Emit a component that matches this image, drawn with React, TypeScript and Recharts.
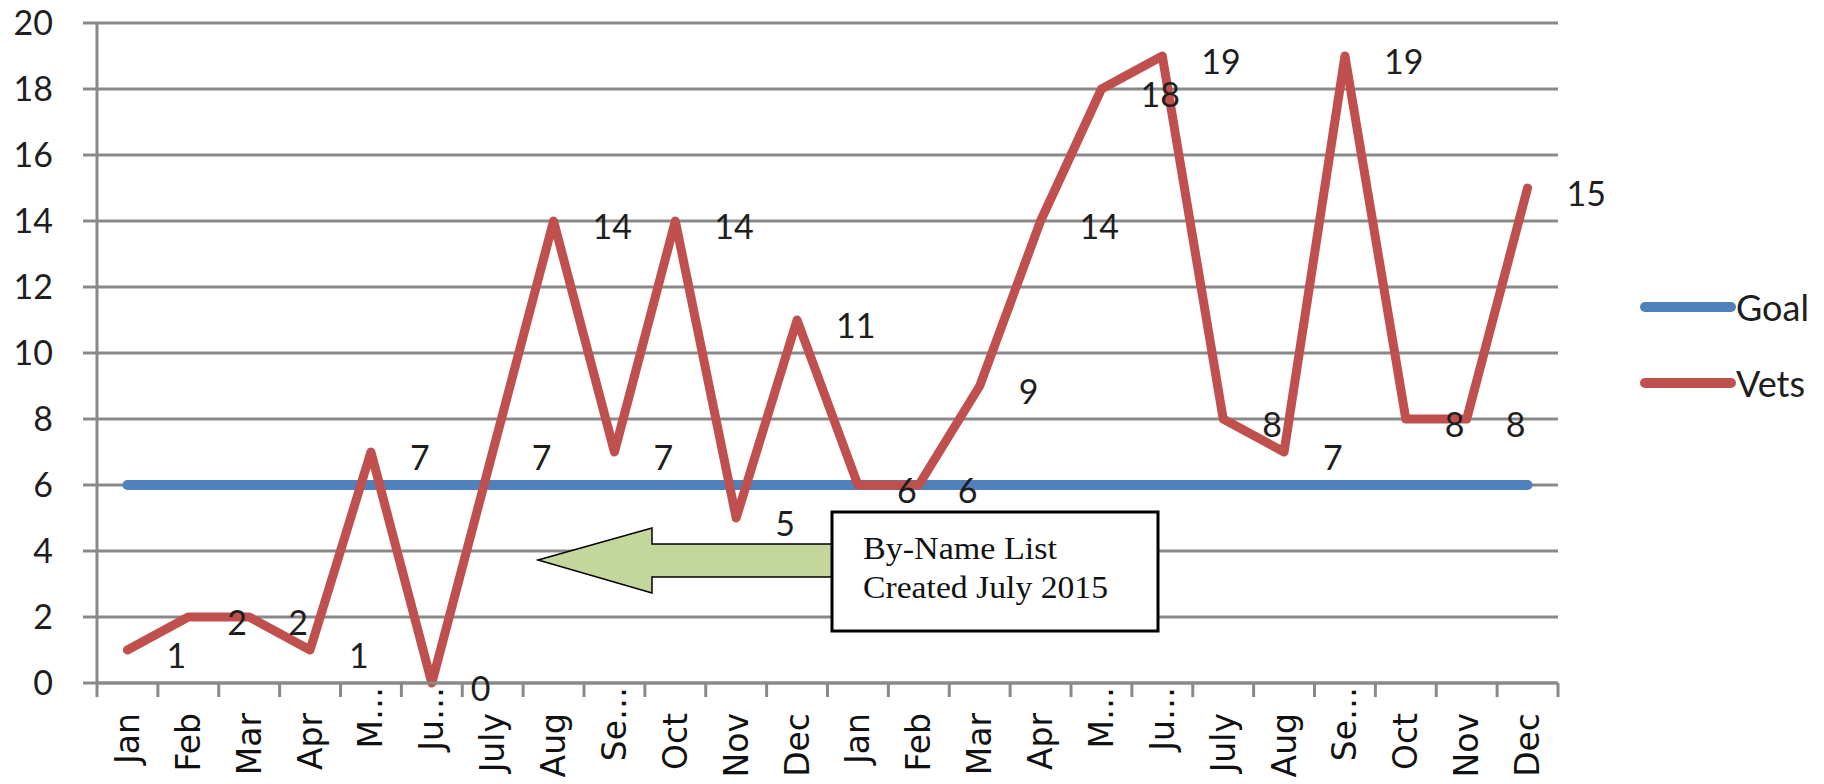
import React from 'react';
import { LineChart, Line, XAxis, YAxis, CartesianGrid, Legend, LabelList } from 'recharts';

// tick labels as shown on the axis (Excel truncated a few of them)
const months = [
  'Jan', 'Feb', 'Mar', 'Apr', 'M…', 'Ju…', 'July', 'Aug', 'Se…', 'Oct', 'Nov', 'Dec',
  'Jan', 'Feb', 'Mar', 'Apr', 'M…', 'Ju…', 'July', 'Aug', 'Se…', 'Oct', 'Nov', 'Dec',
];
const vets = [1, 2, 2, 1, 7, 0, 7, 14, 7, 14, 5, 11, 6, 6, 9, 14, 18, 19, 8, 7, 19, 8, 8, 15];
const goal = [6, 6, 6, 6, 6, 6, 6, 6, 6, 6, 6, 6, 6, 6, 6, 6, 6, 6, 6, 6, 6, 6, 6, 6];
const yTicks = [0, 2, 4, 6, 8, 10, 12, 14, 16, 18, 20];

const data = months.map((m, i) => ({ month: m, goal: goal[i], vets: vets[i] }));

const W = 1824;
const H = 784;
const MARGIN = { top: 23, right: 266, bottom: 0, left: 0 };
const Y_AXIS_W = 97;
const PLOT_W = W - MARGIN.left - MARGIN.right - Y_AXIS_W;
const STEP = PLOT_W / months.length;

const GRID = '#898989';
const RED = '#c0504d';
const BLUE = '#4f81bd';
const TEXT = '#1e1e1e';
const NUM_FONT = 'Lato, "Open Sans", sans-serif';
const SERIF = '"Liberation Serif", "Times New Roman", serif';

const MonthTick = (props: any) => {
  const { x, y, payload, index } = props;
  const label: string = payload.value;
  const truncated = label.endsWith('…');
  const ty = y + (truncated ? 4 : 30);
  return (
    <g>
      <line x1={x - STEP / 2} y1={y} x2={x - STEP / 2} y2={y + 14} stroke={GRID} strokeWidth={3} />
      {index === months.length - 1 && (
        <line x1={x + STEP / 2} y1={y} x2={x + STEP / 2} y2={y + 14} stroke={GRID} strokeWidth={3} />
      )}
      <text
        x={x}
        y={ty}
        transform={`rotate(-90, ${x}, ${ty})`}
        textAnchor="end"
        dominantBaseline="central"
        fontFamily='"DejaVu Sans", Verdana, sans-serif'
        fontSize={33}
        fill="#111"
      >
        {label}
      </text>
    </g>
  );
};

const ValueLabel = (props: any) => {
  const { x, y, value } = props;
  return (
    <text x={x + 39} y={y + 4} textAnchor="start" dominantBaseline="central" fontFamily={NUM_FONT} fontSize={34} fill={TEXT}>
      {value}
    </text>
  );
};

const SideLegend = () => (
  <div style={{ fontFamily: NUM_FONT, fontSize: 36, color: TEXT }}>
    {[{ name: 'Goal', color: BLUE }, { name: 'Vets', color: RED }].map((it) => (
      <div key={it.name} style={{ display: 'flex', alignItems: 'center', height: 76 }}>
        <svg width={96} height={20}>
          <line x1={5} y1={10} x2={91} y2={10} stroke={it.color} strokeWidth={10} strokeLinecap="round" />
        </svg>
        <span>{it.name}</span>
      </div>
    ))}
  </div>
);

export default function App() {
  return (
    <div style={{ position: 'absolute', left: 0, top: 0, width: W, height: H, background: '#fff' }}>
      <LineChart width={W} height={H} data={data} margin={MARGIN}>
        <CartesianGrid horizontal vertical={false} stroke={GRID} strokeWidth={3} />
        <XAxis
          dataKey="month"
          height={H - MARGIN.top - 660}
          padding={{ left: STEP / 2, right: STEP / 2 }}
          axisLine={{ stroke: GRID, strokeWidth: 3 }}
          tickLine={false}
          tickSize={0}
          tickMargin={0}
          interval={0}
          tick={<MonthTick />}
        />
        <YAxis
          width={Y_AXIS_W}
          domain={[0, 20]}
          ticks={yTicks}
          interval={0}
          axisLine={{ stroke: GRID, strokeWidth: 3 }}
          tickLine={{ stroke: GRID, strokeWidth: 3 }}
          tickSize={14}
          tickMargin={30}
          tick={{ fontFamily: NUM_FONT, fontSize: 34, fill: TEXT }}
        />
        <Legend
          layout="vertical"
          align="center"
          verticalAlign="middle"
          content={<SideLegend />}
          wrapperStyle={{ left: 1640, top: 269, width: 184 }}
        />
        <Line
          dataKey="goal"
          name="Goal"
          stroke={BLUE}
          strokeWidth={10}
          strokeLinecap="round"
          dot={false}
          activeDot={false}
          isAnimationActive={false}
        />
        <Line
          dataKey="vets"
          name="Vets"
          stroke={RED}
          strokeWidth={9}
          strokeLinejoin="round"
          strokeLinecap="round"
          dot={false}
          activeDot={false}
          isAnimationActive={false}
        >
          <LabelList dataKey="vets" content={<ValueLabel />} />
        </Line>
      </LineChart>

      {/* annotation: arrow + note box */}
      <svg style={{ position: 'absolute', left: 0, top: 0 }} width={W} height={H} pointerEvents="none">
        <polygon
          points="538,560 652,528 652,544 834,544 834,577 652,577 652,593"
          fill="#c3d69b"
          stroke="#000"
          strokeWidth={1.5}
        />
        <rect x={832} y={512} width={326} height={119} fill="#fff" stroke="#000" strokeWidth={3} />
        <text x={863} y={559} fontFamily={SERIF} fontSize={31} fill="#111" textLength={194} lengthAdjust="spacingAndGlyphs">
          By-Name List
        </text>
        <text x={863} y={598} fontFamily={SERIF} fontSize={31} fill="#111" textLength={245} lengthAdjust="spacingAndGlyphs">
          Created July 2015
        </text>
      </svg>
    </div>
  );
}
